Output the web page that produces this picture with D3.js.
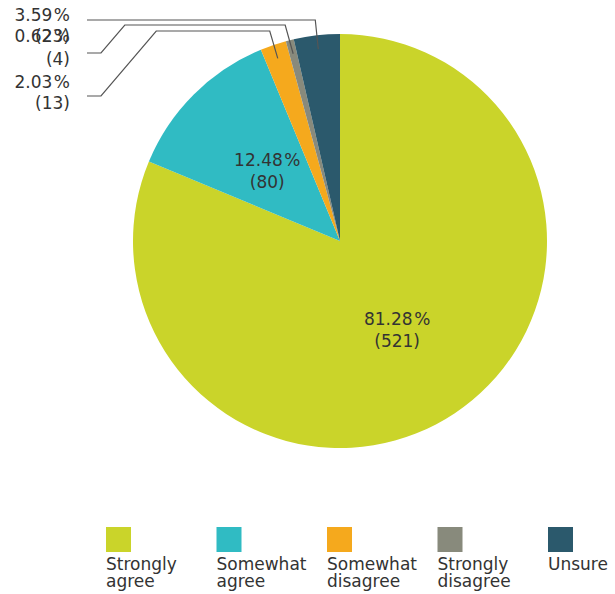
<!DOCTYPE html>
<html><head><meta charset="utf-8">
<script src="https://cdn.jsdelivr.net/npm/d3@7"></script>
<style>body{margin:0;background:#fff}svg{display:block}</style>
</head><body>
<svg id="chart" width="615" height="594"></svg>
<script>
const categories = ["Strongly agree", "Somewhat agree", "Somewhat disagree", "Strongly disagree", "Unsure"];
const legendLines = [["Strongly","agree"],["Somewhat","agree"],["Somewhat","disagree"],["Strongly","disagree"],["Unsure"]];
const counts = [521, 80, 13, 4, 23];
const percents = ["81.28", "12.48", "2.03", "0.62", "3.59"];
const colors = ["#cad42a", "#30bbc3", "#f5a91d", "#888a7c", "#2b596c"];

const svg = d3.select("#chart");
const cx = 340, cy = 241, R = 207;
const font = "'DejaVu Sans', sans-serif";
const fs = 17;
const textColor = "#333333";

const data = categories.map((c, i) => ({cat: c, count: counts[i], pct: percents[i], color: colors[i], idx: i}));
const pie = d3.pie().value(d => d.count).sort(null);
const arcs = pie(data);
const arc = d3.arc().innerRadius(0).outerRadius(R);
const labelArc = d3.arc().innerRadius(103).outerRadius(103);
const leaderArc = d3.arc().innerRadius(193).outerRadius(193);

function pctText(t, x, y, val) {
  t.append("tspan").attr("x", x).attr("y", y).text(val);
  t.append("tspan").attr("dx", 1.5).text("%");
}

const g = svg.append("g").attr("transform", `translate(${cx},${cy})`);
g.selectAll("path.slice").data(arcs).enter().append("path")
  .attr("class", "slice").attr("d", arc).attr("fill", d => d.data.color);

// inside labels for large slices
const inside = arcs.filter(a => a.data.count / d3.sum(counts) > 0.1);
inside.forEach(a => {
  const [x, y] = labelArc.centroid(a);
  const t1 = g.append("text").attr("text-anchor", "middle")
    .attr("font-family", font).attr("font-size", fs).attr("fill", textColor);
  pctText(t1, x, y - 2, a.data.pct);
  g.append("text").attr("text-anchor", "middle")
    .attr("font-family", font).attr("font-size", fs).attr("fill", textColor)
    .attr("x", x).attr("y", y + 20).text(`(${a.data.count})`);
});

// outside labels for small slices (layout only)
const outsideLayout = {
  4: {textY: 21, countY: 42, lineY: 20, elbowY: 20},
  3: {textY: 42, countY: 65, lineY: 53, elbowY: 25},
  2: {textY: 88, countY: 109, lineY: 96, elbowY: 31}
};
const textX = 70, lineX0 = 87, lineX1 = 101;
const lg = svg.append("g");
arcs.forEach(a => {
  const L = outsideLayout[a.data.idx];
  if (!L) return;
  const [px, py] = leaderArc.centroid(a);
  const ex = cx + px, ey = cy + py;
  let pts;
  if (L.lineY === L.elbowY) {
    pts = [[ex, ey], [ex - 3, L.elbowY], [lineX0, L.lineY]];
  } else {
    const diagX = lineX1 + (L.lineY - L.elbowY) * 0.85;
    pts = [[ex, ey], [ex - 8, L.elbowY], [diagX, L.elbowY], [lineX1, L.lineY], [lineX0, L.lineY]];
  }
  lg.append("path").attr("d", d3.line()(pts)).attr("fill", "none")
    .attr("stroke", "#555").attr("stroke-width", 1.2);
});
arcs.forEach(a => {
  const L = outsideLayout[a.data.idx];
  if (!L) return;
  const t1 = lg.append("text").attr("text-anchor", "end")
    .attr("font-family", font).attr("font-size", fs).attr("fill", textColor);
  pctText(t1, textX, L.textY, a.data.pct);
  lg.append("text").attr("text-anchor", "end")
    .attr("font-family", font).attr("font-size", fs).attr("fill", textColor)
    .attr("x", textX).attr("y", L.countY).text(`(${a.data.count})`);
});

// legend
const lx = d3.scalePoint().domain(categories).range([106, 548]);
const leg = svg.append("g");
categories.forEach((c, i) => {
  const x = lx(c);
  leg.append("rect").attr("x", x).attr("y", 527).attr("width", 25).attr("height", 25).attr("fill", colors[i]);
  legendLines[i].forEach((ln, j) => {
    leg.append("text").attr("font-family", font).attr("font-size", fs).attr("fill", textColor)
      .attr("x", x).attr("y", 570 + j * 17).text(ln);
  });
});
</script>
</body></html>
